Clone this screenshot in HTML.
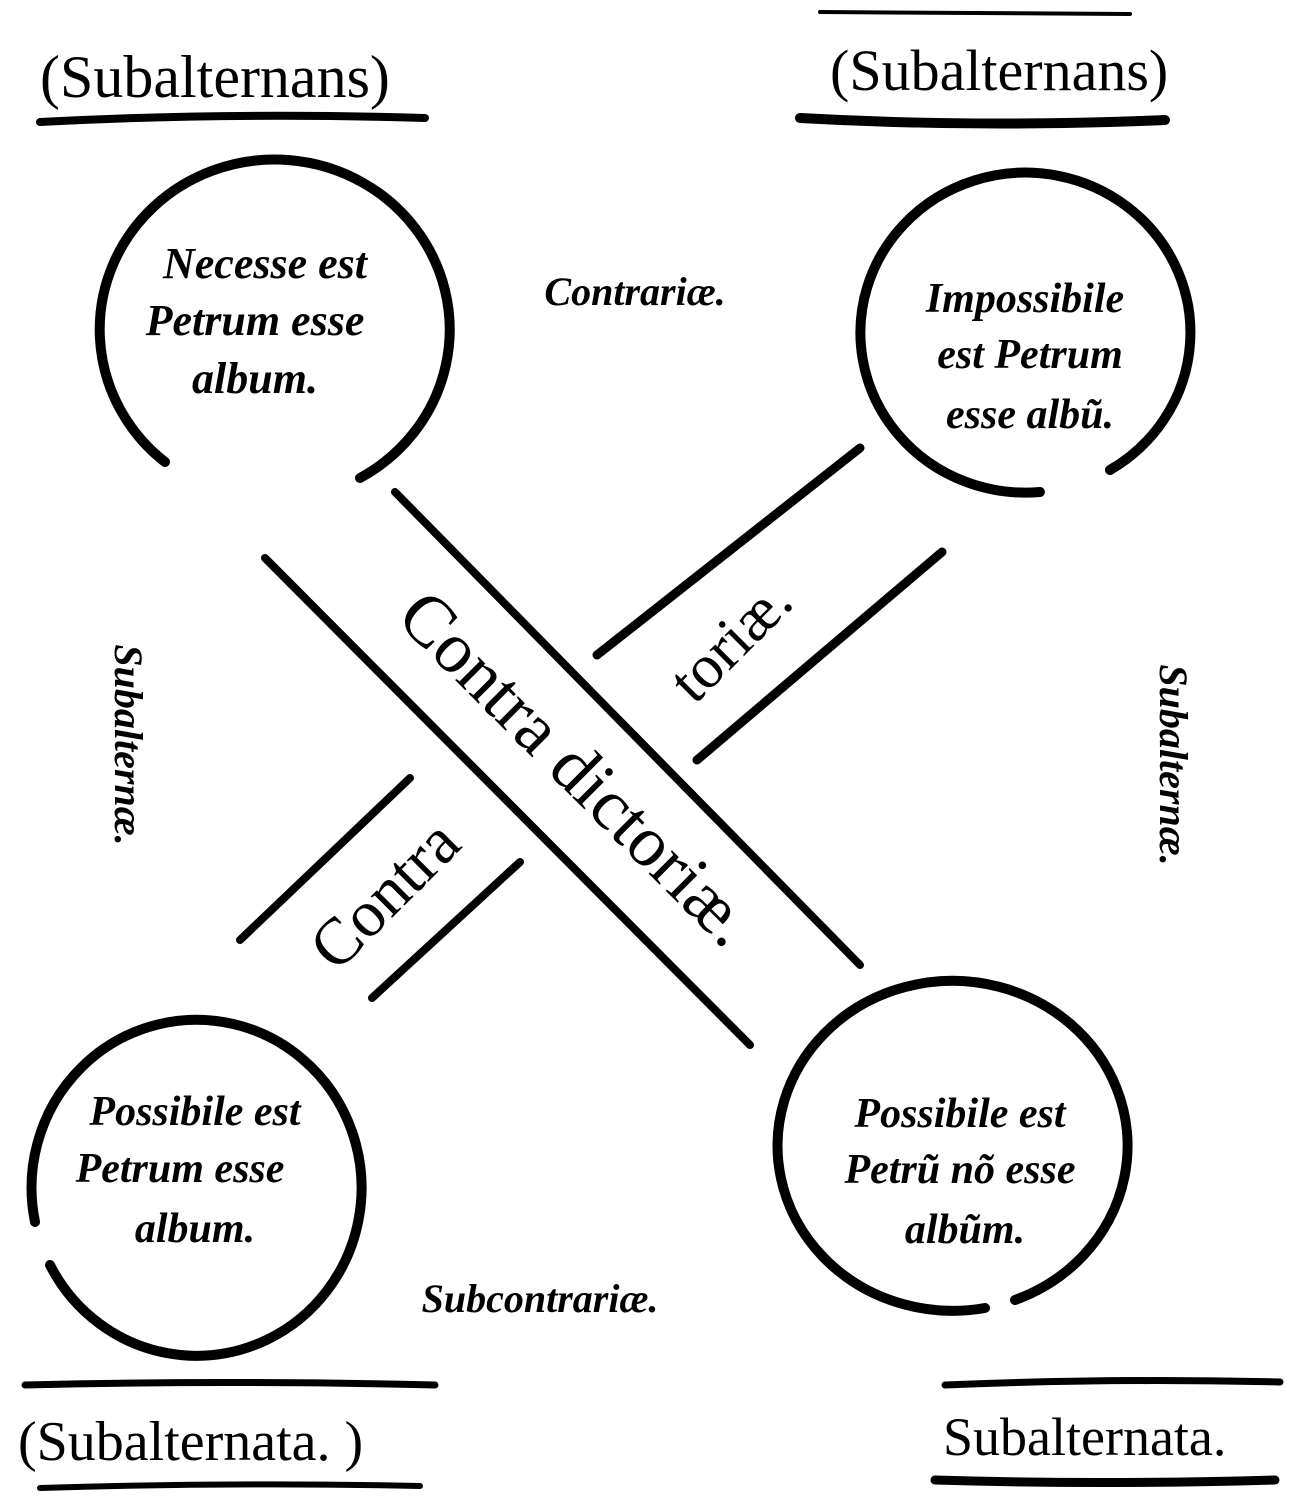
<!DOCTYPE html>
<html><head><meta charset="utf-8"><style>
html,body{margin:0;padding:0;background:#fff;overflow:hidden}
svg{display:block}
text{font-family:"Liberation Serif",serif;fill:#000}
</style></head><body>
<svg width="1314" height="1500" viewBox="0 0 1314 1500" xmlns="http://www.w3.org/2000/svg">
<rect width="1314" height="1500" fill="#fff"/>
<g stroke="#000" stroke-width="7" fill="none" stroke-linecap="round">
<path d="M40 122 Q230 112 425 118" stroke-width="8"/>
<path d="M800 118 Q980 128 1165 120" stroke-width="10"/>
<path d="M25 1385 Q230 1380 435 1385" stroke-width="7"/>
<path d="M945 1385 Q1110 1378 1280 1382" stroke-width="7"/>
<path d="M40 1488 Q230 1482 420 1486" stroke-width="6"/>
<path d="M935 1480 Q1100 1485 1275 1480" stroke-width="9"/>
<path d="M820 12 L1130 14" stroke-width="4"/>
<path d="M165 462 A175 170 0 1 1 360 478" stroke-width="10"/>
<path d="M1040 492 A165 160 0 1 1 1110 470" stroke-width="10"/>
<path d="M35 1222 A165 168 0 1 1 50 1265" stroke-width="10"/>
<path d="M1015 1300 A175 165 0 1 0 985 1308" stroke-width="10"/>
<path d="M395 492 L860 965" stroke-width="8"/>
<path d="M265 558 L750 1045" stroke-width="8"/>
<path d="M597 655 L860 448" stroke-width="9"/>
<path d="M697 760 L942 552" stroke-width="9"/>
<path d="M240 940 L410 778" stroke-width="8"/>
<path d="M372 998 L520 862" stroke-width="8"/>
</g>
<text x="40" y="97" font-size="60">(Subalternans)</text>
<text x="830" y="90" font-size="58">(Subalternans)</text>
<text x="18" y="1460" font-size="56">(Subalternata. )</text>
<text x="943" y="1455" font-size="54">Subalternata.</text>
<g font-style="italic" font-weight="bold" font-size="44" text-anchor="middle">
<text x="265" y="278">Necesse est</text>
<text x="255" y="335">Petrum esse</text>
<text x="255" y="393">album.</text>
<text x="1025" y="312" font-size="42">Impossibile</text>
<text x="1030" y="368" font-size="42">est Petrum</text>
<text x="1030" y="428" font-size="42">esse albũ.</text>
<text x="195" y="1125" font-size="42">Possibile est</text>
<text x="180" y="1182" font-size="42">Petrum esse</text>
<text x="195" y="1242" font-size="42">album.</text>
<text x="960" y="1127" font-size="42">Possibile est</text>
<text x="960" y="1183" font-size="42">Petrũ nõ esse</text>
<text x="965" y="1243" font-size="42">albũm.</text>
<text x="635" y="305" font-size="40">Contrariæ.</text>
<text x="540" y="1312" font-size="40">Subcontrariæ.</text>
<text transform="translate(115,745) rotate(90)" font-size="40">Subalternæ.</text>
<text transform="translate(1160,765) rotate(90)" font-size="40">Subalternæ.</text>
</g>
<g font-size="72">
<text transform="translate(560,785) rotate(45)" text-anchor="middle">Contra dictoriæ.</text>
<text transform="translate(745,655) rotate(-45)" text-anchor="middle" font-size="62">toriæ.</text>
<text transform="translate(400,910) rotate(-45)" text-anchor="middle" font-size="66">Contra</text>
</g>
</svg>
</body></html>
